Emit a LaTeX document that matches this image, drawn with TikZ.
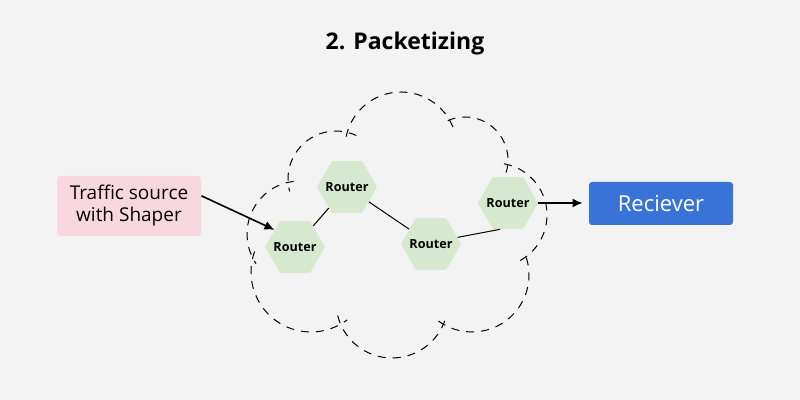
\documentclass[tikz,border=0pt]{standalone}
\usepackage{fontspec}
\setmainfont{Open Sans}
\usepackage{xcolor}
\usepackage{tikz}
\usetikzlibrary{calc, shapes.geometric, positioning, arrows.meta}

\definecolor{nen}{RGB}{243,243,243}
\definecolor{hong}{RGB}{249,215,222}
\definecolor{xanhla}{RGB}{214,233,206}
\definecolor{xanhduong}{RGB}{58,115,216}

\begin{document}
\begin{tikzpicture}[>={Latex[length=5pt, width=4.5pt]}, x=0.5pt, y=0.5pt,
    router/.style={regular polygon, regular polygon sides=6, fill=xanhla,
        minimum size=30pt, inner sep=0pt,
        label={[font=\bfseries\fontsize{6.3}{7}\selectfont]center:#1}},
    hop/.style={rounded corners=1.5pt, minimum width=72pt, align=center},
    may/.style={dash pattern=on 4pt off 3.5pt, line width=0.5pt}]
    % Nền
    \fill[nen] (0,0) rectangle (800,400);
    \node[font=\bfseries\fontsize{11.5}{13}\selectfont] (tieude) at (405,356) {2. Packetizing};

    % Đám mây
    \foreach \cx/\cy/\r/\a/\b in {401/252/56/22/170, 336/221/48/65/195,
        300/166/53/97/214, 311/128/60/160/307, 392/98/56/194/341,
        472/125/57/234/379, 495/185/52/-61/80, 465/240/43/-17/116} {
        \draw[may] (\cx,\cy) ++(\a:\r) arc[start angle=\a, end angle=\b, radius=\r];
    }

    % Các nút
    \node[hop, fill=hong, minimum height=30pt, font=\fontsize{9.5}{11}\selectfont]
        (nguon) at (129,194) {Traffic source\\with Shaper};
    \node[hop, fill=xanhduong, text=white, minimum height=21.5pt,
        font=\fontsize{11}{13}\selectfont] (nhan) at (661,196.5) {Reciever};
    \node[router=Router] (R1) at (295,153) {};
    \node[router=Router] (R2) at (347,213) {};
    \node[router=Router] (R3) at (431,156) {};
    \node[router=Router] (R4) at (508,197) {};

    % Đường nối
    \draw[line width=0.5pt] (R1) -- (R2);
    \draw[line width=0.5pt] (R2) -- (R3);
    \draw[line width=0.5pt] (R3.14) -- (R4.253);
    \draw[->, line width=0.8pt] (nguon.8) -- (R1.140);
    \draw[->, line width=0.8pt, shorten >=3pt] (R4.east) -- (R4.east -| nhan.west);
\end{tikzpicture}
\end{document}
